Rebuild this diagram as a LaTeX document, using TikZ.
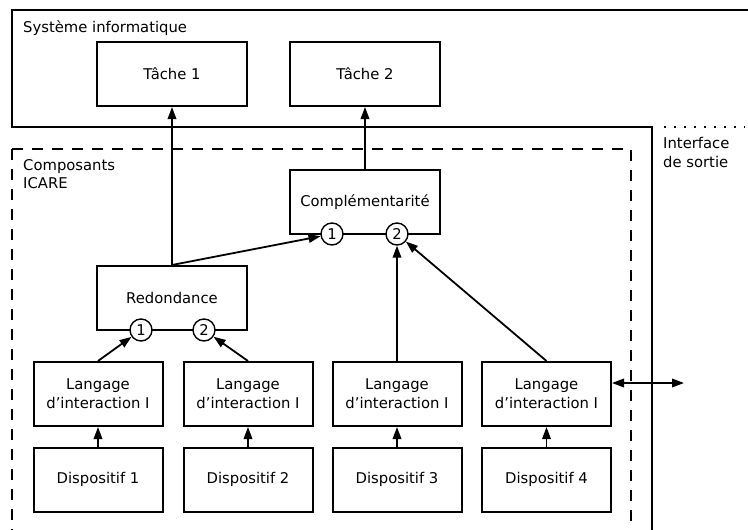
\documentclass[tikz,border=0pt]{standalone}
\usepackage{fontspec}
\setmainfont{DejaVu Sans}
\usepackage{tikz}
\usetikzlibrary{arrows.meta}

\tikzset{
  bloc/.style={draw, line width=2pt, fill=white, minimum width=150pt, minimum height=64pt, inner sep=0pt, align=center},
  petitbloc/.style={bloc, minimum width=129pt},
  port/.style={draw, circle, line width=1.4pt, fill=white, minimum size=22pt, inner sep=0pt},
  fleche/.style={-{Triangle[length=12pt,width=8.5pt]}, line width=1.8pt},
  doublefleche/.style={{Triangle[length=12pt,width=8.5pt]}-{Triangle[length=12pt,width=8.5pt]}, line width=1.8pt},
  cadre/.style={line width=2pt},
}

\begin{document}
\begin{tikzpicture}[x=1pt,y=-1pt,font=\fontsize{14.8}{18.7}\selectfont]
\useasboundingbox (0,0) rectangle (748,530);
\clip (0,0) rectangle (748,530);
% cadres
\draw [cadre] (760,10) -- (12,10) -- (12,127) -- (652,127) -- (652,540);
\draw [cadre, dash pattern=on 2pt off 8pt] (664,127) -- (745,127);
\draw [cadre, dash pattern=on 11pt off 9pt] (12,149) -- (12,540);
\draw [cadre, dash pattern=on 11pt off 9pt] (12,149) -- (631,149) -- (631,540);
\node [anchor=north west, inner sep=0pt] (sysinfo) at (23,20) {Système informatique};
\node [anchor=north west, inner sep=0pt, align=left] (icare) at (23,159) {Composants\\ICARE};
\node [anchor=north west, inner sep=0pt, align=left] (interface) at (663,137) {Interface\\de sortie};
% blocs
\node [bloc] (tache1) at (172,74) {Tâche 1};
\node [bloc] (tache2) at (365,74) {Tâche 2};
\node [bloc] (compl) at (365,202) {Complémentarité};
\node [bloc] (redondance) at (172,298) {Redondance};
\node [petitbloc] (lang1) at (98,394) {Langage\\d’interaction I};
\node [petitbloc] (lang2) at (248,394) {Langage\\d’interaction I};
\node [petitbloc] (lang3) at (397,394) {Langage\\d’interaction I};
\node [petitbloc] (lang4) at (546.5,394) {Langage\\d’interaction I};
\node [petitbloc] (disp1) at (98,479.5) {Dispositif 1};
\node [petitbloc] (disp2) at (248,479.5) {Dispositif 2};
\node [petitbloc] (disp3) at (397,479.5) {Dispositif 3};
\node [petitbloc] (disp4) at (546.5,479.5) {Dispositif 4};
% ports
\node [port] (cport1) at (332,234) {1};
\node [port] (cport2) at (397,234) {2};
\node [port] (rport1) at (141,330) {1};
\node [port] (rport2) at (204,330) {2};
% fleches
\draw [fleche] (redondance.north) -- (tache1);
\draw [fleche] (compl) -- (tache2);
\draw [fleche] (redondance.north) -- (cport1);
\draw [fleche] (lang3) -- (cport2);
\draw [fleche] (lang4.north) -- (cport2);
\draw [fleche] (lang1.north) -- (rport1);
\draw [fleche] (lang2.north) -- (rport2);
\draw [fleche] (disp1) -- (lang1);
\draw [fleche] (disp2) -- (lang2);
\draw [fleche] (disp3) -- (lang3);
\draw [fleche] (disp4) -- (lang4);
\coordinate (sortie) at (684,383);
\draw [doublefleche] ([yshift=11pt]lang4.east) -- (sortie);
\end{tikzpicture}
\end{document}
